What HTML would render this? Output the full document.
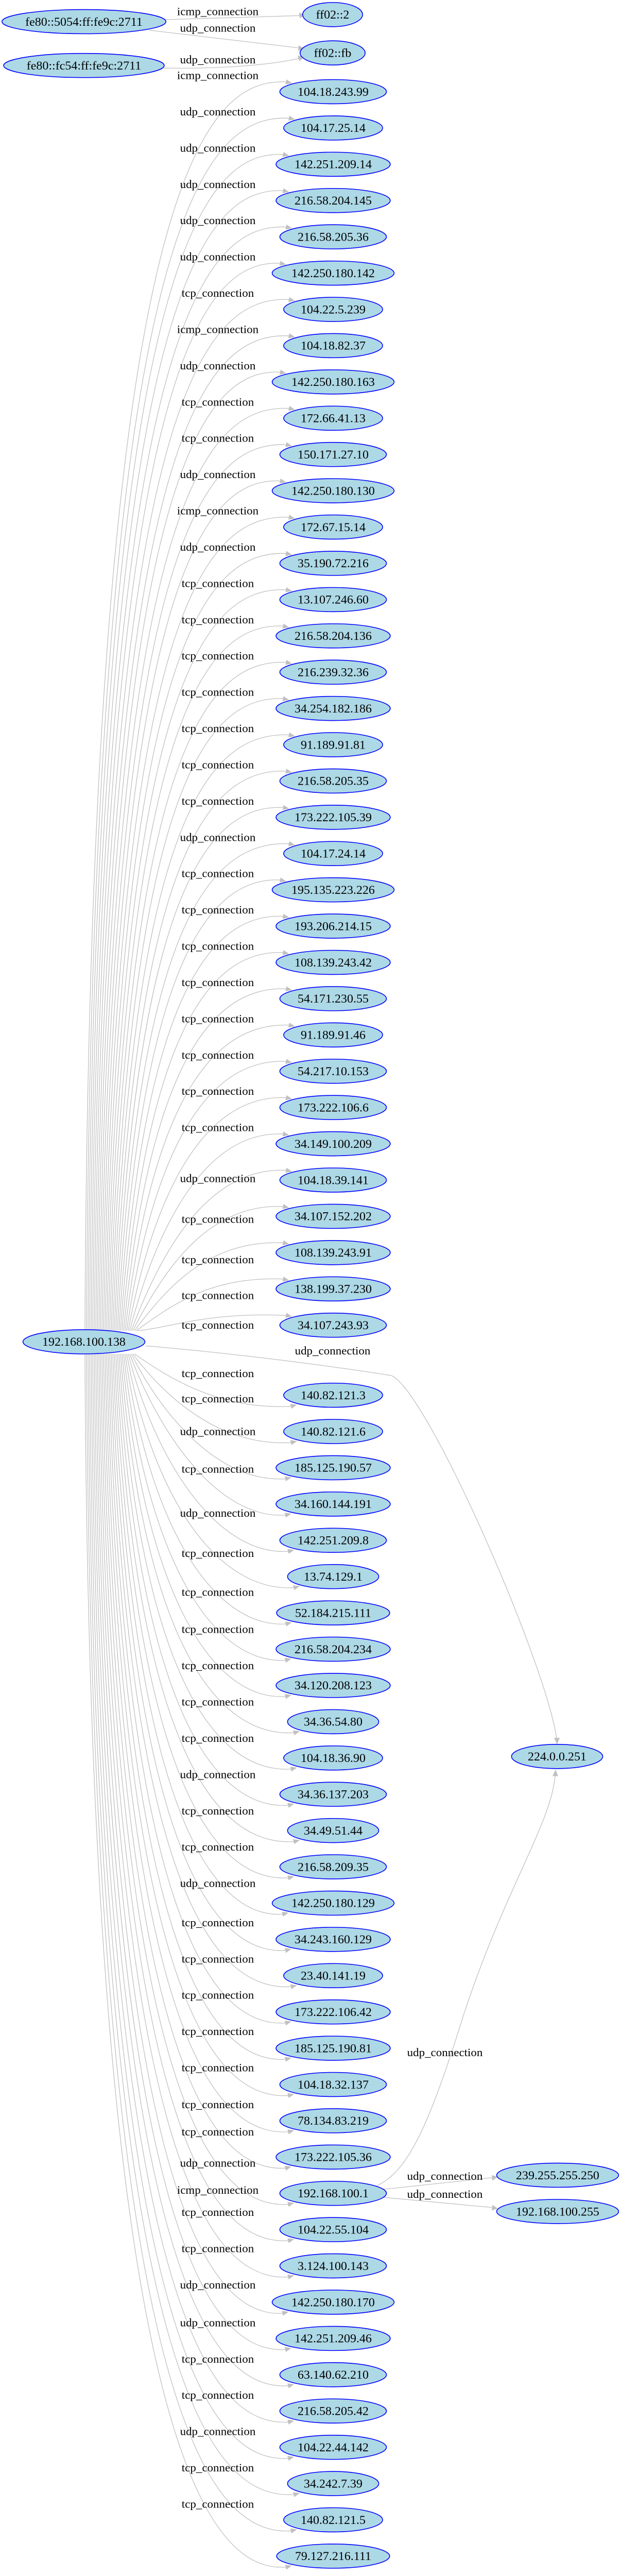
<!DOCTYPE html>
<html><head><meta charset="utf-8"><meta name="viewport" content="width=1208, initial-scale=1"><style>
html,body{margin:0;padding:0;background:#fff;width:1208px;height:5107px;overflow:hidden;}
svg{display:block;position:absolute;left:0;top:0;overflow:hidden;}
text{font-family:"Liberation Serif",serif;}
.n,.s{font-size:24px;text-anchor:middle;fill:#000;}
.lb{font-size:23px;text-anchor:middle;fill:#000;}
</style></head><body>
<svg id="svg" xmlns="http://www.w3.org/2000/svg" width="1208" height="5107" viewBox="0 0 1208 5107">
<rect width="1208" height="5107" fill="#fff"/>
<g transform="scale(1,0.978)">
<g id="edges" fill="none" stroke="#c0c0c0" stroke-width="1.3">
<path d="M320,39 L582,31"/><polygon points="594,30 581,25 582,36" fill="#c0c0c0" stroke="none"/>
<path d="M290,60 L580,95"/><polygon points="592,97 580,90 579,101" fill="#c0c0c0" stroke="none"/>
<path d="M315,135 C420,137 520,130 580,116"/><polygon points="592,113 578,110 581,121" fill="#c0c0c0" stroke="none"/>
<path d="M283,2671 C500,2690 700,2720 760,2730 C830,2760 1060,3300 1081,3450"/><polygon points="1082,3462 1076,3449 1087,3449" fill="#c0c0c0" stroke="none"/>
<path d="M732,4338 C790,4310 830,4230 900,4000 C980,3750 1070,3620 1078,3525"/><polygon points="1079,3512 1073,3525 1084,3525" fill="#c0c0c0" stroke="none"/>
<path d="M745,4345 L955,4322"/><polygon points="967,4320 955,4317 956,4328" fill="#c0c0c0" stroke="none"/>
<path d="M745,4361 L955,4381"/><polygon points="967,4383 956,4376 955,4387" fill="#c0c0c0" stroke="none"/>
</g>
<g id="shapes" fill="#add8e6" stroke="#0000ff" stroke-width="1.6"></g>
<g id="texts">
<text class="s" x="163" y="51">fe80::5054:ff:fe9c:2711</text>
<text class="s" x="163" y="138">fe80::fc54:ff:fe9c:2711</text>
<text class="s" x="646" y="37">ff02::2</text>
<text class="s" x="646" y="113">ff02::fb</text>
<text class="s" x="163" y="2671">192.168.100.138</text>
<text class="s" x="1082" y="3494">224.0.0.251</text>
<text class="s" x="1083" y="4325">239.255.255.250</text>
<text class="s" x="1083" y="4397">192.168.100.255</text>
<text class="lb" x="423" y="30">icmp_connection</text>
<text class="lb" x="423" y="63">udp_connection</text>
<text class="lb" x="423" y="126">udp_connection</text>
<text class="lb" x="646" y="2688">udp_connection</text>
<text class="lb" x="864" y="4081">udp_connection</text>
<text class="lb" x="864" y="4326">udp_connection</text>
<text class="lb" x="864" y="4362">udp_connection</text>

<text class="n u" x="647" y="190">104.18.243.99</text><text class="lb" x="423" y="157">icmp_connection</text>
<text class="n u" x="647" y="262">104.17.25.14</text><text class="lb" x="423" y="229">udp_connection</text>
<text class="n u" x="647" y="334">142.251.209.14</text><text class="lb" x="423" y="301">udp_connection</text>
<text class="n u" x="647" y="406">216.58.204.145</text><text class="lb" x="423" y="373">udp_connection</text>
<text class="n u" x="647" y="478">216.58.205.36</text><text class="lb" x="423" y="445">udp_connection</text>
<text class="n u" x="647" y="550">142.250.180.142</text><text class="lb" x="423" y="517">udp_connection</text>
<text class="n u" x="647" y="622">104.22.5.239</text><text class="lb" x="423" y="589">tcp_connection</text>
<text class="n u" x="647" y="694">104.18.82.37</text><text class="lb" x="423" y="661">icmp_connection</text>
<text class="n u" x="647" y="766">142.250.180.163</text><text class="lb" x="423" y="733">udp_connection</text>
<text class="n u" x="647" y="838">172.66.41.13</text><text class="lb" x="423" y="805">tcp_connection</text>
<text class="n u" x="647" y="910">150.171.27.10</text><text class="lb" x="423" y="877">tcp_connection</text>
<text class="n u" x="647" y="982">142.250.180.130</text><text class="lb" x="423" y="949">udp_connection</text>
<text class="n u" x="647" y="1054">172.67.15.14</text><text class="lb" x="423" y="1021">icmp_connection</text>
<text class="n u" x="647" y="1126">35.190.72.216</text><text class="lb" x="423" y="1093">udp_connection</text>
<text class="n u" x="647" y="1198">13.107.246.60</text><text class="lb" x="423" y="1165">tcp_connection</text>
<text class="n u" x="647" y="1270">216.58.204.136</text><text class="lb" x="423" y="1237">tcp_connection</text>
<text class="n u" x="647" y="1342">216.239.32.36</text><text class="lb" x="423" y="1309">tcp_connection</text>
<text class="n u" x="647" y="1414">34.254.182.186</text><text class="lb" x="423" y="1381">tcp_connection</text>
<text class="n u" x="647" y="1486">91.189.91.81</text><text class="lb" x="423" y="1453">tcp_connection</text>
<text class="n u" x="647" y="1558">216.58.205.35</text><text class="lb" x="423" y="1525">tcp_connection</text>
<text class="n u" x="647" y="1630">173.222.105.39</text><text class="lb" x="423" y="1597">tcp_connection</text>
<text class="n u" x="647" y="1702">104.17.24.14</text><text class="lb" x="423" y="1669">udp_connection</text>
<text class="n u" x="647" y="1774">195.135.223.226</text><text class="lb" x="423" y="1741">tcp_connection</text>
<text class="n u" x="647" y="1846">193.206.214.15</text><text class="lb" x="423" y="1813">tcp_connection</text>
<text class="n u" x="647" y="1918">108.139.243.42</text><text class="lb" x="423" y="1885">tcp_connection</text>
<text class="n u" x="647" y="1990">54.171.230.55</text><text class="lb" x="423" y="1957">tcp_connection</text>
<text class="n u" x="647" y="2062">91.189.91.46</text><text class="lb" x="423" y="2029">tcp_connection</text>
<text class="n u" x="647" y="2134">54.217.10.153</text><text class="lb" x="423" y="2101">tcp_connection</text>
<text class="n u" x="647" y="2206">173.222.106.6</text><text class="lb" x="423" y="2173">tcp_connection</text>
<text class="n u" x="647" y="2278">34.149.100.209</text><text class="lb" x="423" y="2245">tcp_connection</text>
<text class="n u" x="647" y="2350">104.18.39.141</text><text class="lb" x="423" y="2346">udp_connection</text>
<text class="n u" x="647" y="2422">34.107.152.202</text><text class="lb" x="423" y="2427">tcp_connection</text>
<text class="n u" x="647" y="2494">108.139.243.91</text><text class="lb" x="423" y="2507">tcp_connection</text>
<text class="n u" x="647" y="2566">138.199.37.230</text><text class="lb" x="423" y="2578">tcp_connection</text>
<text class="n u" x="647" y="2638">34.107.243.93</text><text class="lb" x="423" y="2637">tcp_connection</text>

<text class="n l" x="647" y="2777">140.82.121.3</text><text class="lb" x="423" y="2733">tcp_connection</text>
<text class="n l" x="647" y="2849">140.82.121.6</text><text class="lb" x="423" y="2783">tcp_connection</text>
<text class="n l" x="647" y="2921">185.125.190.57</text><text class="lb" x="423" y="2848">udp_connection</text>
<text class="n l" x="647" y="2993">34.160.144.191</text><text class="lb" x="423" y="2923">tcp_connection</text>
<text class="n l" x="647" y="3065">142.251.209.8</text><text class="lb" x="423" y="3010">udp_connection</text>
<text class="n l" x="647" y="3137">13.74.129.1</text><text class="lb" x="423" y="3090">tcp_connection</text>
<text class="n l" x="647" y="3209">52.184.215.111</text><text class="lb" x="423" y="3167">tcp_connection</text>
<text class="n l" x="647" y="3281">216.58.204.234</text><text class="lb" x="423" y="3241">tcp_connection</text>
<text class="n l" x="647" y="3353">34.120.208.123</text><text class="lb" x="423" y="3313">tcp_connection</text>
<text class="n l" x="647" y="3425">34.36.54.80</text><text class="lb" x="423" y="3385">tcp_connection</text>
<text class="n l" x="647" y="3497">104.18.36.90</text><text class="lb" x="423" y="3457">tcp_connection</text>
<text class="n l" x="647" y="3569">34.36.137.203</text><text class="lb" x="423" y="3529">udp_connection</text>
<text class="n l" x="647" y="3641">34.49.51.44</text><text class="lb" x="423" y="3601">tcp_connection</text>
<text class="n l" x="647" y="3713">216.58.209.35</text><text class="lb" x="423" y="3673">tcp_connection</text>
<text class="n l" x="647" y="3785">142.250.180.129</text><text class="lb" x="423" y="3745">udp_connection</text>
<text class="n l" x="647" y="3857">34.243.160.129</text><text class="lb" x="423" y="3823">tcp_connection</text>
<text class="n l" x="647" y="3929">23.40.141.19</text><text class="lb" x="423" y="3895">tcp_connection</text>
<text class="n l" x="647" y="4001">173.222.106.42</text><text class="lb" x="423" y="3967">tcp_connection</text>
<text class="n l" x="647" y="4073">185.125.190.81</text><text class="lb" x="423" y="4039">tcp_connection</text>
<text class="n l" x="647" y="4145">104.18.32.137</text><text class="lb" x="423" y="4111">tcp_connection</text>
<text class="n l" x="647" y="4217">78.134.83.219</text><text class="lb" x="423" y="4184">tcp_connection</text>
<text class="n l" x="647" y="4289">173.222.105.36</text><text class="lb" x="423" y="4238">tcp_connection</text>
<text class="n l" x="647" y="4361">192.168.100.1</text><text class="lb" x="423" y="4300">udp_connection</text>
<text class="n l" x="647" y="4433">104.22.55.104</text><text class="lb" x="423" y="4354">icmp_connection</text>
<text class="n l" x="647" y="4505">3.124.100.143</text><text class="lb" x="423" y="4398">tcp_connection</text>
<text class="n l" x="647" y="4577">142.250.180.170</text><text class="lb" x="423" y="4470">tcp_connection</text>
<text class="n l" x="647" y="4649">142.251.209.46</text><text class="lb" x="423" y="4542">udp_connection</text>
<text class="n l" x="647" y="4721">63.140.62.210</text><text class="lb" x="423" y="4617">udp_connection</text>
<text class="n l" x="647" y="4793">216.58.205.42</text><text class="lb" x="423" y="4689">tcp_connection</text>
<text class="n l" x="647" y="4865">104.22.44.142</text><text class="lb" x="423" y="4761">tcp_connection</text>
<text class="n l" x="647" y="4937">34.242.7.39</text><text class="lb" x="423" y="4833">udp_connection</text>
<text class="n l" x="647" y="5009">140.82.121.5</text><text class="lb" x="423" y="4905">tcp_connection</text>
<text class="n l" x="647" y="5081">79.127.216.111</text><text class="lb" x="423" y="4977">tcp_connection</text>
</g>
</g>
</svg>
<script>
(function(){
var NS='http://www.w3.org/2000/svg';
var eg=document.getElementById('edges'),sg=document.getElementById('shapes');
function mk(tag,a,p){var e=document.createElementNS(NS,tag);for(var k in a)e.setAttribute(k,a[k]);p.appendChild(e);return e;}
function arrow(ex,ey,tx,ty){var dx=tx-ex,dy=ty-ey,L=Math.sqrt(dx*dx+dy*dy)||1,px=-dy/L*5,py=dx/L*5;
mk('polygon',{points:tx+','+ty+' '+(ex+px)+','+(ey+py)+' '+(ex-px)+','+(ey-py),fill:'#c0c0c0',stroke:'none'},eg);}
var ts=document.querySelectorAll('#texts text.n, #texts text.s');
for(var j=0;j<ts.length;j++){var t=ts[j];var w=0;try{w=t.getComputedTextLength();}catch(e){}
if(!w)w=t.textContent.length*10.5;
var cx=+t.getAttribute('x'),cy=+t.getAttribute('y')-8,rx=0.62*w+18;
mk('ellipse',{cx:cx,cy:cy,rx:rx.toFixed(1),ry:24},sg);
var c=t.getAttribute('class');
if(c.indexOf(' u')>=0){var i=Math.round((cy-182)/72);
var sx=165+i*3,xv=175+i*4.5,p1y=cy+Math.min(160,(2641-cy)*0.5);
var tx=647-0.77*rx,ty=cy-17,ex=tx-12,ey=ty-2.5;
mk('path',{d:'M'+sx+',2641 C'+xv+','+p1y+' 400,'+(cy-26)+' '+ex+','+ey},eg);arrow(ex,ey,tx,ty);}
else if(c.indexOf(' l')>=0){var k=Math.round((cy-2769)/72);
var sx2=165+(32-k)*3,xv2=175+(32-k)*4.5,p1y2=cy-Math.min(160,(cy-2687)*0.5);
var tx2=647-0.73*rx,ty2=cy+19,ex2=tx2-12,ey2=ty2+3;
mk('path',{d:'M'+sx2+',2687 C'+xv2+','+p1y2+' 420,'+(cy+30)+' '+ex2+','+ey2},eg);arrow(ex2,ey2,tx2,ty2);}
}
})();
</script>
</body></html>
